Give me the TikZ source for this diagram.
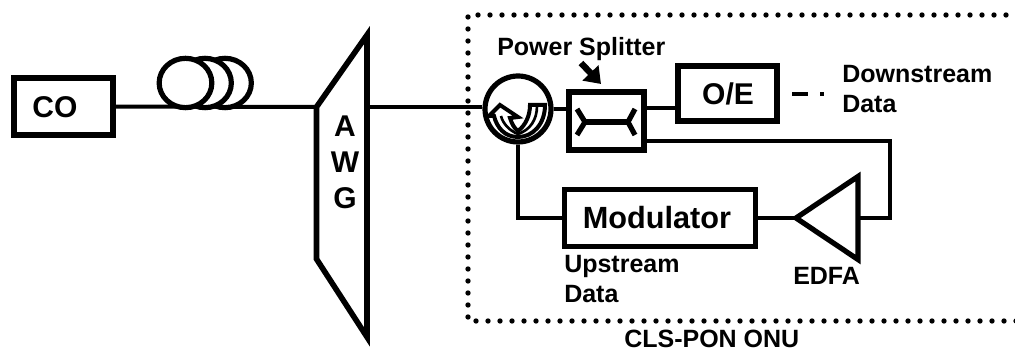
\documentclass[tikz,border=0pt]{standalone}
\usepackage{fontspec}
\setmainfont{Liberation Sans}
\usetikzlibrary{shapes.geometric,arrows.meta}
\tikzset{
  x=0.75pt,y=-0.75pt,
  wire/.style={line width=3pt,line join=miter},
  thick box/.style={draw=black,line width=4.3pt,fill=white,minimum width=#1,inner sep=0pt,outer sep=0pt},
  heavy/.style={draw=black,line width=4.2pt,line join=miter},
  coil/.style={ellipse,draw=black,fill=white,line width=3.9pt,minimum width=39.5pt,minimum height=37pt,inner sep=0pt},
  big/.style={font=\fontsize{22.5}{27}\selectfont\bfseries,inner sep=0pt,anchor=base},
  small/.style={font=\fontsize{18.75}{22.5}\selectfont\bfseries,inner sep=0pt,anchor=base west,align=left},
}
\begin{document}
\begin{tikzpicture}
\useasboundingbox (0,0) rectangle (1015,352);
% named points
\coordinate (bTR) at (1018,15);
\coordinate (bTL) at (468,15);
\coordinate (bBL) at (468,321);
\coordinate (bBR) at (1018,321);
\coordinate (awgTop) at (367,35);
\coordinate (awgUL) at (316.5,107);
\coordinate (awgLL) at (316.5,259);
\coordinate (awgBot) at (367,337);
\coordinate (awgR) at (367,107);
\coordinate (awgL) at (315,107);
% dotted ONU boundary
\draw[line width=4pt,line cap=round,dash pattern=on 0pt off 9pt] (bTR) -- (bTL) -- (bBL) -- (bBR);
% nodes
\node[thick box=74.25pt,minimum height=42.75pt] (co) at (63.5,106.5) {};
\node[big] (colabel) at (55,118) {CO};
\node[thick box=56pt,minimum height=43pt] (split) at (606.5,121) {};
\node[thick box=74.5pt,minimum height=41.5pt] (oe) at (727.5,93.5) {};
\node[big] (oelabel) at (728,105) {O/E};
\node[thick box=143pt,minimum height=42.5pt,line width=3.9pt] (mod) at (660,218) {};
\node[big,font=\fontsize{23}{27}\selectfont\bfseries] (modlabel) at (657,229) {Modulator};
\node[circle,draw=black,fill=white,line width=3.9pt,minimum size=49.5pt,inner sep=0pt] (circ) at (518,109) {};
% connectors
\coordinate (splitHigh) at (646,108);
\coordinate (oeIn) at (675,108);
\draw[wire] (co.east) -- (awgL);
\draw[wire] (awgR) -- (circ.west |- awgR);
\draw[wire] (circ.east) -- (split.west |- circ.east);
\draw[wire] (splitHigh) -- (oeIn);
\coordinate (edfaApex) at (796,218);
\coordinate (edfaTop) at (858,176.5);
\coordinate (edfaBot) at (858,259.5);
\coordinate (edfaR) at (858,218);
\coordinate (rTop) at (890,141);
\coordinate (rBot) at (890,218);
\coordinate (splitLow) at (646,141);
\coordinate (circCorner) at (518,218);
\draw[wire] (splitLow) -- (rTop) -- (rBot) -- (edfaR);
\draw[wire] (circ.south) -- (circCorner) -- (mod.west);
\draw[wire] (mod.east) -- (edfaApex);
% EDFA
\draw[heavy,fill=white,line width=3.9pt] (edfaApex) -- (edfaTop) -- (edfaBot) -- cycle;
% coils
\node[coil] (c3) at (225,83) {};
\node[coil] (c2) at (205,83) {};
\node[coil] (c1) at (185.5,83) {};
% AWG
\draw[heavy,fill=white] (awgR) -- (awgTop) -- (awgUL) -- (awgLL) -- (awgBot) -- cycle;
\node[big,align=center,anchor=center] (awglabel) at (345,162) {A\\W\\G};
% circulator inner arrow
\draw[black,fill=white,line width=3pt,line join=miter]
  (545,105) .. controls (545,124) and (533,137) .. (518,137)
  .. controls (505,137) and (497,128) .. (494,116)
  -- (489,116) -- (500,105) -- (518,117) -- (510,118)
  .. controls (512,124) and (514,128) .. (518,131)
  .. controls (526,125) and (530,115) .. (530,105) -- cycle;
\draw[black,line width=2pt] (537,106) .. controls (537,120) and (530,130) .. (518,134)
  .. controls (510,131) and (503,124) .. (501,116);
% splitter inner
\coordinate (sl) at (585,122);
\coordinate (sr) at (628,122);
\coordinate (sl1) at (577,109);
\coordinate (sl2) at (577,135);
\coordinate (sr1) at (635,109);
\coordinate (sr2) at (635,135);
\draw[heavy,line width=3.9pt] (sl) -- (sr);
\draw[heavy,line width=3.9pt] (sl1) -- (sl) -- (sl2);
\draw[heavy,line width=3.9pt] (sr1) -- (sr) -- (sr2);
% power splitter arrow
\coordinate (psS) at (581,63);
\coordinate (psT) at (601,84);
\draw[line width=4.8pt,-{Triangle[length=11.5pt,width=16pt]}] (psS) -- (psT);
% dash after O/E
\coordinate (dS) at (792,94);
\coordinate (dE) at (824,94);
\draw[line width=3pt,dash pattern=on 12pt off 9pt on 3pt off 30pt] (dS) -- (dE);
% text
\node[small] (ps) at (497,56) {Power Splitter};
\node[small] (down) at (842,113) {Downstream\\Data};
\node[small] (up) at (564,303) {Upstream\\Data};
\node[small] (edfa) at (793,285) {EDFA};
\node[small] (onu) at (624,348) {CLS-PON ONU};
\end{tikzpicture}
\end{document}
